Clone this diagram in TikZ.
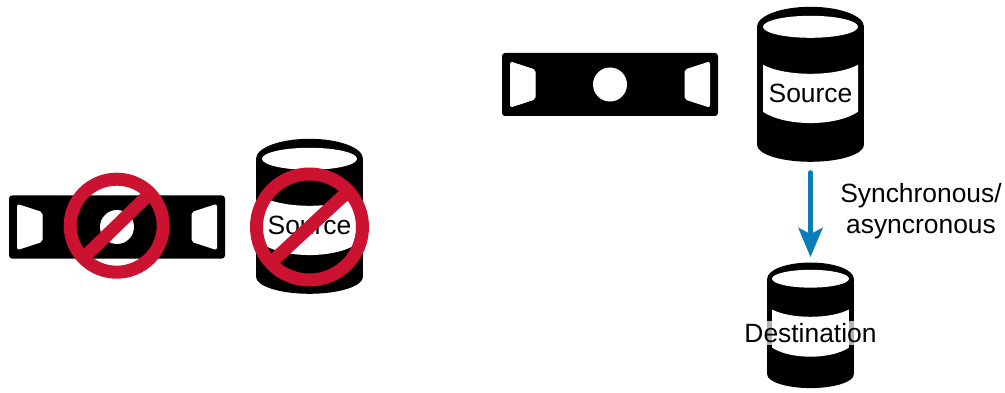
\documentclass[tikz,border=0pt]{standalone}
\usepackage{fontspec}
\setmainfont{Liberation Sans}
\usepackage{xcolor}
\definecolor{clBan}{HTML}{CB1230}
\definecolor{clFlow}{HTML}{0A7CBA}
\usetikzlibrary{arrows.meta,positioning,calc}
\tikzset{
  x=1pt, y=-1pt,
  flow/.style={-{Stealth[length=29pt,width=24pt,inset=6pt]}, line width=5pt, line cap=round, draw=clFlow, shorten <=10.5pt, shorten >=5.5pt},
  label/.style={font=\fontsize{26.4}{31}\selectfont, text=black, inner sep=0pt, align=center},
  ban/.style={draw=clBan, line width=13pt},
  hole/.style={fill=white, draw=white, line width=1pt, rounded corners=2pt},
  anchorbox/.style={inner sep=0pt, minimum width=#1*107pt, minimum height=#1*155pt},
  pics/can/.style={code={
    \fill[black] (-53.5,20) rectangle (53.5,138);
    \fill[black] (0,20) ellipse[x radius=53.5, y radius=20];
    \fill[black] (0,138) ellipse[x radius=53.5, y radius=17];
    \fill[white] (0,20) ellipse[x radius=47.5, y radius=11];
    \fill[white] (-47.5,58) .. controls (-25,70) and (25,70) .. (47.5,58) -- (47.5,105)
      .. controls (25,120) and (-25,120) .. (-47.5,105) -- cycle;
  }},
  pics/camera/.style={code={
    \fill[black, rounded corners=3pt] (-108,-31.5) rectangle (108,31.5);
    \fill[white] (0,0) circle[radius=17];
    \foreach \sgn in {-1,1}{
      \draw[hole] (\sgn*99.5,-22.5) -- (\sgn*75,-14.5) -- (\sgn*75,14.5) -- (\sgn*99.5,22.5) -- cycle;
    }
  }},
}
\begin{document}
\begin{tikzpicture}
  \useasboundingbox (0,0) rectangle (1005,393);

  % Left side: both blocked
  \node[anchorbox=1] (blockedCan) at (309.5,216.5) {};
  \pic at (blockedCan.north) {can};
  \node[label] (blockedSource) at (309.5,225) {Source};
  \pic at (117,227) {camera};
  \draw[ban] (116.7,225.7) circle[radius=46.5];
  \draw[ban] ($(116.7,225.7)+(-34,33)$) -- ($(116.7,225.7)+(34,-33)$);
  \draw[ban] (309.5,227) circle[radius=53];
  \draw[ban] ($(309.5,227)+(-40,37)$) -- ($(309.5,227)+(40,-37)$);

  % Right side: allowed
  \pic at (610,84.5) {camera};
  \node[anchorbox=1] (sourceCan) at (810.5,84.5) {};
  \pic at (sourceCan.north) {can};
  \node[label] (source) at (810.5,93) {Source};
  \node[anchorbox=0.81] (destCan) at (810.5,325.5) {};
  \pic[scale=0.81] at (destCan.north) {can};
  \node[label, fill=white, fill opacity=0.7, text opacity=1, minimum height=24pt] (destination) at (810.5,333) {Destination};

  \draw[flow] (sourceCan.south) -- (destCan.north);
  \node[label] (flowlabel) at (921,211.5) {Synchronous/\\asyncronous};
\end{tikzpicture}
\end{document}
